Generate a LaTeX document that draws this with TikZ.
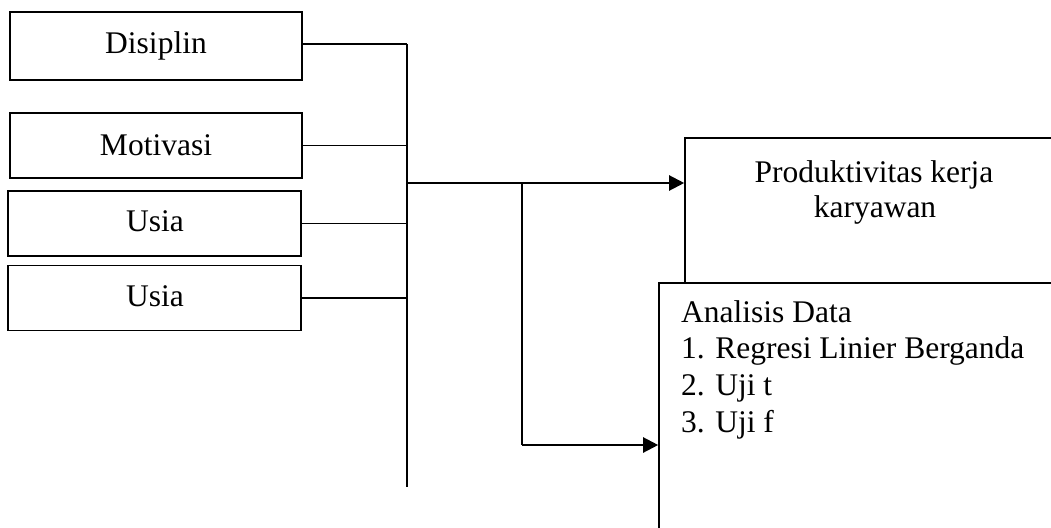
\documentclass[tikz,border=0pt]{standalone}
\usepackage{fontspec}
\setmainfont{Liberation Serif}
\usetikzlibrary{arrows.meta}
\begin{document}
\begin{tikzpicture}[x=1pt,y=-1pt,
  box/.style={draw,line width=1.6pt,inner sep=0pt,rectangle},
  lbl/.style={anchor=base,inner sep=0pt,font=\fontsize{31.5}{36}\selectfont},
  lblw/.style={anchor=base west,inner sep=0pt,font=\fontsize{31.5}{36}\selectfont},
  conn/.style={line width=1.6pt},
  arr/.style={line width=2.2pt,-{Triangle[length=15pt,width=15pt]}}]
\useasboundingbox (0,0) rectangle (1051,527);
\clip (0,0) rectangle (1051,527);
% left boxes
\node[box,minimum width=292pt,minimum height=68pt] (dis) at (156,46) {};
\node[box,minimum width=292pt,minimum height=65pt] (mot) at (156,145.5) {};
\node[box,minimum width=293pt,minimum height=65pt] (usa) at (154.5,223.3) {};
\node[box,minimum width=293pt,minimum height=65pt] (usb) at (154.5,298) {};
\node[lbl] (tdis) at (156,53) {Disiplin};
\node[lbl] (tmot) at (156,155) {Motivasi};
\node[lbl] (tusa) at (155,231) {Usia};
\node[lbl] (tusb) at (155,306) {Usia};
% right boxes
\node[box,minimum width=415pt,minimum height=145pt] (prod) at (892.5,210.5) {};
\node[box,minimum width=441pt,minimum height=317pt] (ana) at (879.5,441.5) {};
\node[lbl] (tprod1) at (874,182) {Produktivitas kerja};
\node[lbl] (tprod2) at (875,217) {karyawan};
\node[lblw] (ta0) at (681,322) {Analisis Data};
\node[lblw] (ta1) at (681,358) {1. Regresi Linier Berganda};
\node[lblw] (ta2) at (681,395) {2. Uji t};
\node[lblw] (ta3) at (681,432) {3. Uji f};
% bus and junctions
\coordinate (bustop) at (407,44);
\coordinate (busbot) at (407,487);
\coordinate (j1) at (407,183);
\coordinate (j2) at (522,183);
\coordinate (j3) at (522,445);
\draw[conn] (bustop) -- (busbot);
\draw[conn] (dis.east |- bustop) -- (bustop);
\draw[conn] (mot.east) -- (mot.east -| bustop);
\draw[conn] (usa.east) -- (usa.east -| bustop);
\draw[conn] (usb.east) -- (usb.east -| bustop);
\draw[arr] (j1) -- (j1 -| prod.west);
\draw[line width=2.2pt] (j2) -- (j3);
\draw[arr] (j3) -- (j3 -| ana.west);
\end{tikzpicture}
\end{document}
